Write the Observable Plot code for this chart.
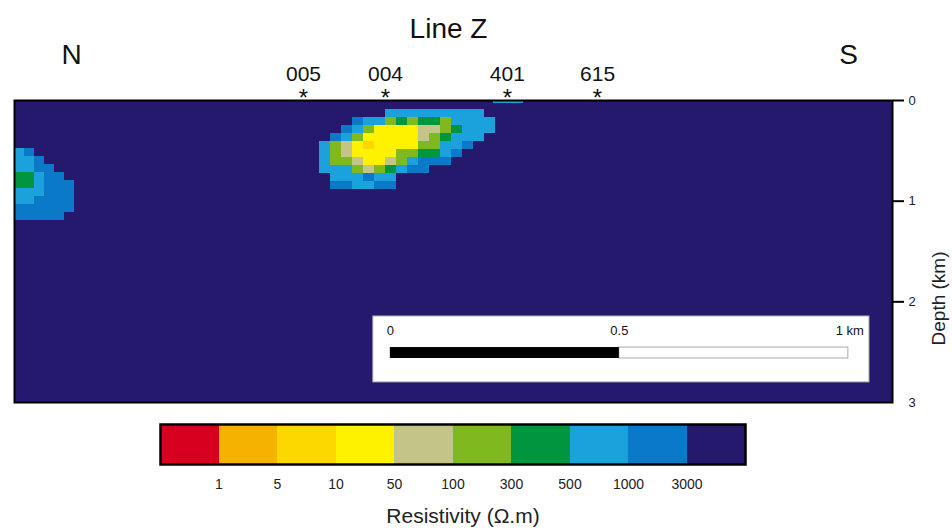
<!DOCTYPE html>
<html><head><meta charset="utf-8">
<script src="https://cdn.jsdelivr.net/npm/d3@7"></script>
<script src="https://cdn.jsdelivr.net/npm/@observablehq/plot@0.6"></script>
<style>
body{margin:0;background:#fff;font-family:"Liberation Sans",Arial,sans-serif}
#chart svg{display:block}
</style>
</head><body><div id="chart"></div>
<script>
// Resistivity classes (Ω.m) and their colours
const classes = ["<1","1-5","5-10","10-50","50-100","100-300","300-500","500-1000","1000-3000",">3000"];
const classColors = ["#d7001f","#f5b300","#fcd700","#fff200","#c3c488","#80b81f","#00963f","#1ba1dc","#0a7ac8","#25196e"];
const classCodes = ["R","O","D","Y","K","g","G","L","B","N"];
const legendTicks = ["1","5","10","50","100","300","500","1000","3000"];
// Wells along the profile (km from N end)
const wellNames = ["005","004","401","615"];
const wellX = [0.631, 0.810, 1.076, 1.273];
const depthTicks = [0,1,2,3];
const profileLength = 1.917; // km
const maxDepth = 3; // km
// Scale bar start (km)
const scaleBarStart = 0.8206;
// Anomaly grids: rows of class codes ('.' = background)
const mainBlob = {x0:0.666, dx:0.024, z0:0.09, dz:0.0795, rows:[
  "......LLLLLLLLL.",
  "...BLLgGgGGgLLLL",
  "..BLgYYYYKKgGLLL",
  ".BLgYYYYYKgGLLL.",
  "LgKYDYYYYggLLB..",
  "LgKYYYYggGGLB...",
  "LggKYYKgLBBB....",
  "LLLgKgGLBB......",
  ".LLLBLL.........",
  ".BBLLBB........."
]};
const leftBlob = {x0:0, dx:0.0218, z0:0.477, dz:0.0795, rows:[
  "LB....",
  "LLB...",
  "LLBB..",
  "GGLBB.",
  "GGLBBB",
  "LLLBBB",
  "LLBBBB",
  "BBBBBB",
  "BBBBB."
]};
const surfaceCells = [{x1:1.046, x2:1.111, y1:0, y2:0.03, cls:"500-1000"}];

function toCells(b){
  const out = [];
  b.rows.forEach((row, r) => {
    [...row].forEach((ch, c) => {
      const i = classCodes.indexOf(ch);
      if (i >= 0) out.push({x1:b.x0 + c*b.dx, x2:b.x0 + (c+1)*b.dx, y1:b.z0 + r*b.dz, y2:b.z0 + (r+1)*b.dz, cls:classes[i]});
    });
  });
  return out;
}
const cells = [...toCells(mainBlob), ...toCells(leftBlob), ...surfaceCells];
const colorScale = {type:"ordinal", domain:classes, range:classColors};
const font = "Liberation Sans, Arial, sans-serif";

const main = Plot.plot({
  width:952, height:412, marginTop:100, marginBottom:10, marginLeft:14, marginRight:60,
  style:{fontFamily:font, background:"#fff"},
  x:{domain:[0, profileLength], axis:null},
  y:{domain:[0, maxDepth], reverse:true, axis:null},
  color:colorScale,
  marks:[
    Plot.frame({fill:classColors[9]}),
    Plot.rect(cells, {x1:"x1", x2:"x2", y1:"y1", y2:"y2", fill:"cls", shapeRendering:"crispEdges"}),
    // scale bar box
    Plot.rect([0], {x1:scaleBarStart-0.037, x2:scaleBarStart+1.046, y1:2.146, y2:2.80, fill:"#fff", stroke:"#bbb", strokeWidth:1}),
    Plot.rect([0], {x1:scaleBarStart+0.5, x2:scaleBarStart+1, y1:2.454, y2:2.563, fill:"#fff", stroke:"#aaa", strokeWidth:1}),
    Plot.rect([0], {x1:scaleBarStart, x2:scaleBarStart+0.5, y1:2.454, y2:2.563, fill:"#000"}),
    Plot.text(["0","0.5"], {x:[scaleBarStart, scaleBarStart+0.5], y:[2.29,2.29], text:d=>d, fontSize:13, fill:"#111"}),
    Plot.text(["1 km"], {x:[scaleBarStart+1.034], y:[2.29], text:d=>d, textAnchor:"end", fontSize:13, fill:"#111"}),
    Plot.frame({stroke:"#000", strokeWidth:2}),
    // depth axis
    Plot.axisY({anchor:"right", ticks:[0,1,2], tickSize:11, strokeWidth:2, tickFormat:()=>"", label:null}),
    Plot.axisY({anchor:"right", ticks:depthTicks, tickSize:0, tickPadding:16, fontSize:13, tickFormat:d3.format("d"), label:null, fill:"#222"}),
    Plot.text(["Depth (km)"], {frameAnchor:"right", dx:46, rotate:-90, text:d=>d, fontSize:19, fill:"#222"}),
    // wells
    Plot.text(wellNames, {x:wellX, frameAnchor:"top", lineAnchor:"middle", dy:-26, text:d=>d, fontSize:21, fill:"#111"}),
    Plot.text(wellNames, {x:wellX, frameAnchor:"top", lineAnchor:"middle", dy:-2, text:()=>"*", fontSize:24, fill:"#111"}),
    // titles
    Plot.text(["Line Z"], {frameAnchor:"top-left", textAnchor:"middle", lineAnchor:"middle", dx:434, dy:-71, text:d=>d, fontSize:28, fill:"#111"}),
    Plot.text(["N"], {frameAnchor:"top-left", textAnchor:"middle", lineAnchor:"middle", dx:57, dy:-45, text:d=>d, fontSize:28, fill:"#111"}),
    Plot.text(["S"], {frameAnchor:"top-left", textAnchor:"middle", lineAnchor:"middle", dx:834, dy:-45, text:d=>d, fontSize:28, fill:"#111"})
  ]
});

const legendIdx = classes.map((c,i)=>i);
const legend = Plot.plot({
  width:952, height:119, marginTop:12, marginBottom:67, marginLeft:160, marginRight:207,
  style:{fontFamily:font, background:"#fff"},
  x:{domain:[0, classes.length], axis:null},
  y:{domain:[0,1], axis:null},
  color:colorScale,
  marks:[
    Plot.rect(legendIdx, {x1:i=>i, x2:i=>i+1, y1:0, y2:1, fill:i=>classes[i], shapeRendering:"crispEdges"}),
    Plot.frame({stroke:"#000", strokeWidth:2.5}),
    Plot.text(legendTicks, {x:(d,i)=>i+1, frameAnchor:"bottom", dy:24, text:d=>d, fontSize:14, fill:"#222"}),
    Plot.text(["Resistivity (Ω.m)"], {frameAnchor:"bottom", dx:10, dy:58, text:d=>d, fontSize:21, fill:"#222"})
  ]
});

document.getElementById("chart").append(main, legend);
</script>
</body></html>
